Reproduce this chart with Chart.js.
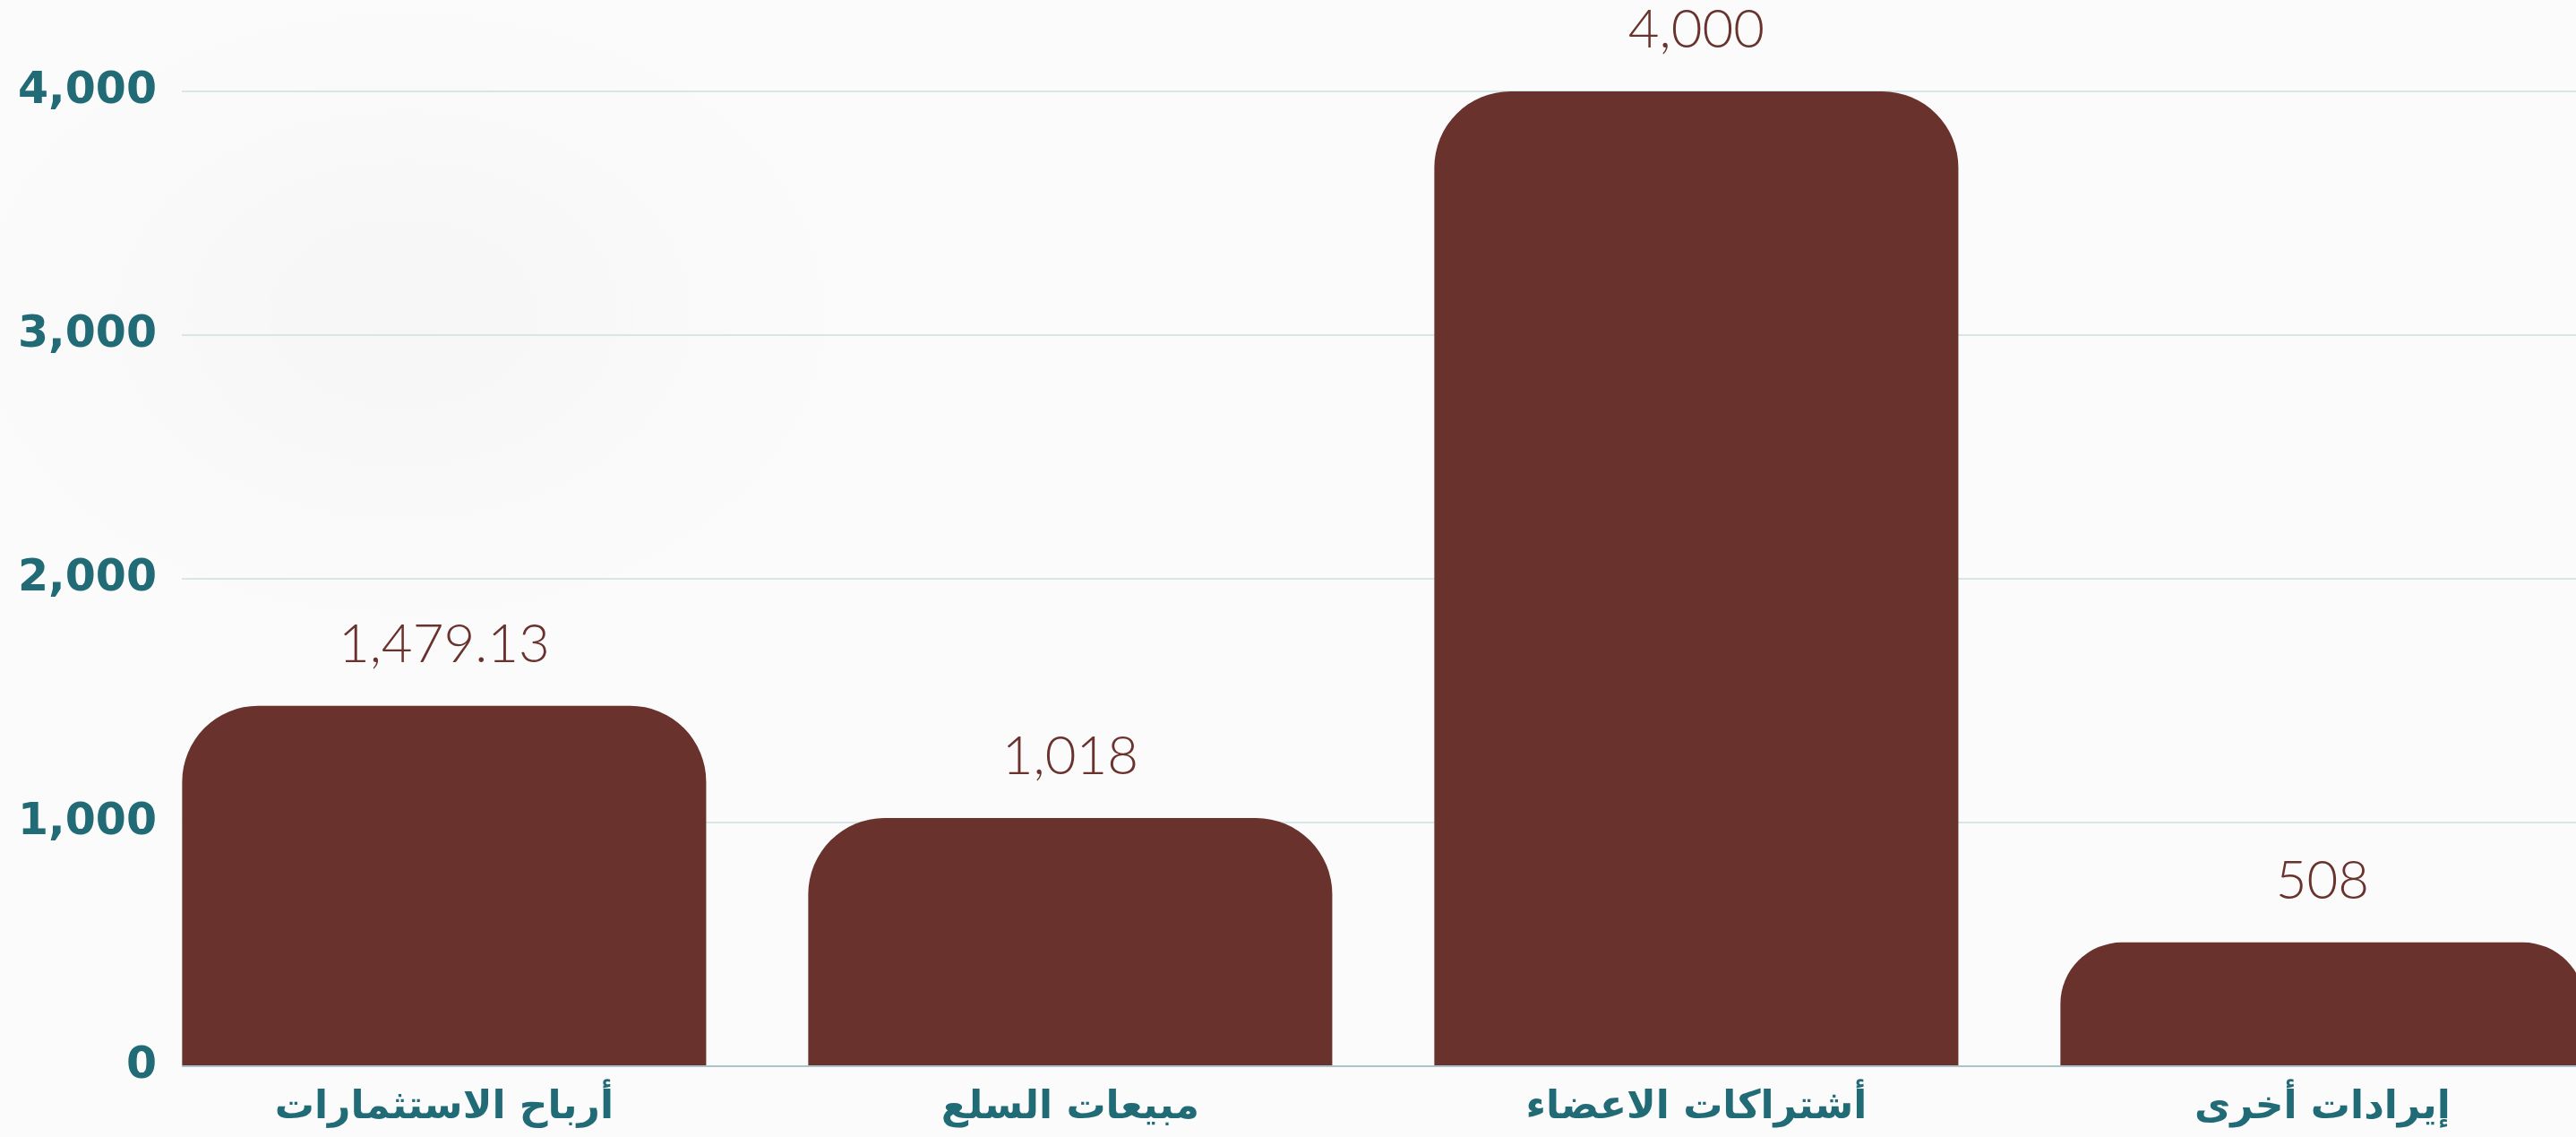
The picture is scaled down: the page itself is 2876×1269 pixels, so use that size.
<!DOCTYPE html>
<html lang="ar">
<head>
<meta charset="utf-8">
<title>Revenue chart</title>
<script src="https://cdn.jsdelivr.net/npm/chart.js@4/dist/chart.umd.min.js"></script>
<style>
    html, body {
        margin: 0;
        padding: 0;
        overflow: hidden;
    }
    body {
        width: 2876px;
        height: 1269px;
        background-color: #fbfbfb;
        /* very faint shade, a rough stand-in for the palm leaf shadow */
        background-image:
            radial-gradient(ellipse 700px 500px at 450px 350px, rgba(0, 0, 0, 0.018), rgba(0, 0, 0, 0) 75%);
    }
    #chart1 {
        display: block;
    }
</style>
</head>
<body>
<canvas id="chart1" width="2876" height="1269"></canvas>

<script>
// Chart data
const categories = ['أرباح الاستثمارات', 'مبيعات السلع', 'أشتراكات الاعضاء', 'إيرادات أخرى'];
const values = [1479.13, 1018, 4000, 508];
const yTicks = [0, 1000, 2000, 3000, 4000];

// Colours
const barColor = '#6a322d';
const tealColor = '#216b76';

// Draws the value above each bar
const valueLabels = {
    id: 'valueLabels',
    afterDatasetsDraw(chart) {
        const ctx = chart.ctx;
        const meta = chart.getDatasetMeta(0);
        ctx.save();
        ctx.font = '300 60px Lato, "Open Sans", sans-serif';
        ctx.fillStyle = barColor;
        ctx.textAlign = 'center';
        ctx.textBaseline = 'middle';
        meta.data.forEach((bar, i) => {
            ctx.fillText(values[i].toLocaleString('en-US'), bar.x, bar.y - 68);
        });
        ctx.restore();
    }
};

window.addEventListener('DOMContentLoaded', () => {
    const ctx = document.getElementById('chart1').getContext('2d');

    new Chart(ctx, {
        type: 'bar',
        data: {
            datasets: [{
                label: 'الإيرادات',
                data: values.map((v, i) => ({ x: i, y: v })),
                backgroundColor: barColor,
                borderRadius: 85,
                borderSkipped: 'start',
                categoryPercentage: 1,
                barPercentage: 0.837
            }]
        },
        options: {
            responsive: false, // fixed size canvas
            maintainAspectRatio: false,
            animation: false,
            layout: {
                padding: { top: 102, right: 0, bottom: 0, left: 0 }
            },
            plugins: {
                legend: { display: false },
                tooltip: { enabled: false }
            },
            scales: {
                x: {
                    type: 'linear',
                    offset: false,
                    min: -0.419,
                    max: 3.405,
                    grid: { display: false },
                    border: { display: false },
                    ticks: {
                        stepSize: 1,
                        includeBounds: false,
                        autoSkip: false,
                        maxRotation: 0,
                        padding: 12,
                        color: tealColor,
                        font: { family: '"DejaVu Sans"', size: 44, weight: 'bold' },
                        callback: (v) => Number.isInteger(v) ? categories[v] : ''
                    },
                    afterFit: (scale) => { scale.height = 79; }
                },
                y: {
                    min: yTicks[0],
                    max: yTicks[yTicks.length - 1],
                    border: { display: false },
                    grid: {
                        drawTicks: false,
                        lineWidth: 2,
                        color: (c) => c.tick && c.tick.value === 0 ? '#abc4c9' : '#d7e7e8'
                    },
                    ticks: {
                        stepSize: 1000,
                        padding: 28,
                        color: tealColor,
                        font: { family: '"DejaVu Sans"', size: 49, weight: 'bold' },
                        callback: (v) => v.toLocaleString('en-US')
                    },
                    afterFit: (scale) => { scale.width = 203; }
                }
            }
        },
        plugins: [valueLabels]
    });
});
</script>
</body>
</html>
